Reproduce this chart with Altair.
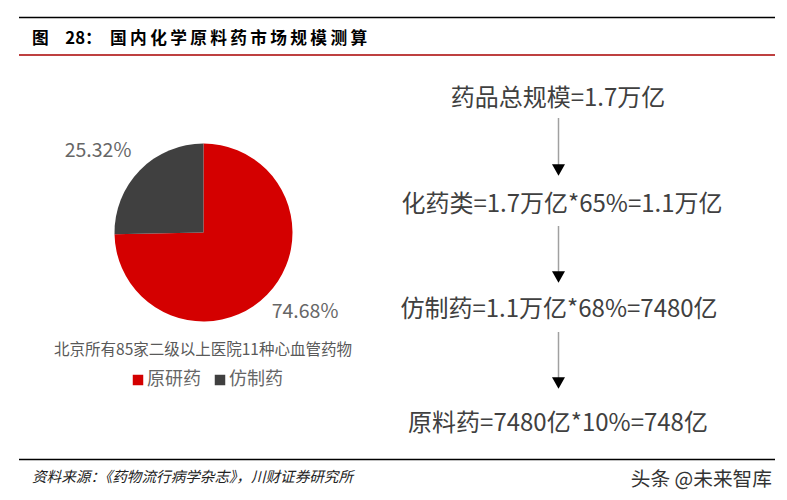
"""图 28: pie of hospital drug mix next to the market-size estimate steps."""
import pandas as pd
import altair as alt

CJK = "Noto Sans CJK SC"
_RED = "#d40000"
_DARK = "#404040"
_GREY = "#666666"
_INK = "#404040"

categories = ["原研药", "仿制药"]
shares = [0.7468, 0.2532]

# thin spaces stand in for the letter spacing of the report heading
title_text = ("图\u200328\uff1a\u2002"
              "国\u2009内\u2009化\u2009学\u2009原\u2009料\u2009药\u2009市\u2009场\u2009规\u2009模\u2009测\u2009算")
source_text = "资料来源\uff1a《药物流行病学杂志》\uff0c川财证券研究所"
caption_text = "北京所有85家二级以上医院11种心血管药物"
watermark_text = "头条 @未来智库"
steps = ["药品总规模=1.7万亿", "化药类=1.7万亿*65%=1.1万亿",
         "仿制药=1.1万亿*68%=7480亿", "原料药=7480亿*10%=748亿"]

df = pd.DataFrame({"kind": categories, "share": shares, "rank": [0, 1]})


def px(v):
    # reference pixels -> plot coordinates (page margin is 8px)
    return alt.value(v - 8)


def label(text, x, y, size, color=_INK, align="center", **kw):
    d = pd.DataFrame({"label": [text]})
    return alt.Chart(d).mark_text(font=CJK, fontSize=size, color=color, align=align,
                                  baseline="middle", **kw).encode(
        x=px(x), y=px(y), text="label:N")


def hline(x1, x2, y, color):
    return alt.Chart(pd.DataFrame({"a": [0]})).mark_rule(color=color, strokeWidth=1.3).encode(
        x=px(x1), x2=px(x2), y=px(y))


def arrow(y1, y2):
    d = pd.DataFrame({"a": [0]})
    shaft = alt.Chart(d).mark_rule(color="#a0a0a0", strokeWidth=1.5).encode(
        x=px(558.5), y=px(y1), y2=px(y2))
    head = alt.Chart(d).mark_point(shape="triangle-down", filled=True, size=170,
                                   color="black", opacity=1).encode(
        x=px(558.5), y=px(y2 + 5))
    return shaft + head


pie = alt.Chart(df).mark_arc(radius=89).encode(
    theta=alt.Theta("share:Q", stack=True),
    order=alt.Order("rank:O"),
    color=alt.Color("kind:N", scale=alt.Scale(domain=categories, range=[_RED, _DARK]),
                    sort=categories,
                    legend=alt.Legend(title=None, orient="none", direction="horizontal",
                                      legendX=121, legendY=363, symbolType="square",
                                      symbolSize=110, symbolStrokeWidth=0,
                                      labelFont=CJK, labelFontSize=18, labelColor=_GREY,
                                      columnPadding=10, labelOffset=0)),
    x=px(203.5), y=px(232.5),
)


def pct(kind, x, y):
    return alt.Chart(df).transform_filter(alt.datum.kind == kind).mark_text(
        font=CJK, fontSize=19.5, color=_GREY, baseline="middle").encode(
        x=px(x), y=px(y), text=alt.Text("share:Q", format=".2%"))


chart = alt.layer(
    hline(19, 775, 17.5, "black"),
    hline(19, 775, 55, "#a80000"),
    hline(19, 775, 459.5, "black"),
    label(title_text, 32, 39, 16.7, color="black", align="left", fontWeight="bold"),
    pie,
    pct("仿制药", 98, 151),
    pct("原研药", 305, 312),
    label(caption_text, 203, 350, 15.5, color="#595959"),
    label(steps[0], 558, 99, 24),
    arrow(118, 165),
    label(steps[1], 562, 205, 24),
    arrow(226, 272),
    label(steps[2], 559, 310, 24),
    arrow(332, 378),
    label(steps[3], 558, 424, 24),
    label(source_text, 32, 478, 14.6, color="#222222", align="left", fontStyle="italic"),
    label(watermark_text, 772, 480, 19.7, color="#333333", align="right"),
).properties(width=771, height=484, padding=0,
             autosize=alt.AutoSizeParams(type="none")).configure_view(stroke=None)

chart.save("out.html", embed_options={"renderer": "svg", "actions": False})
